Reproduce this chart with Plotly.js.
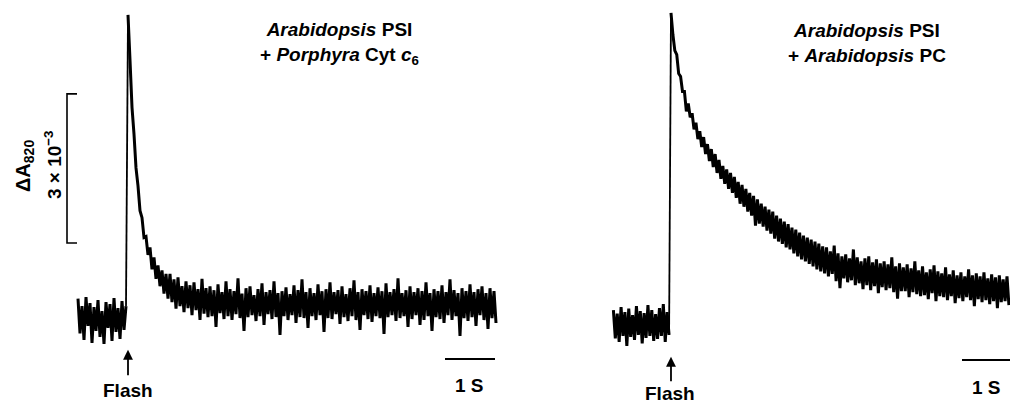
<!DOCTYPE html>
<html>
<head>
<meta charset="utf-8">
<script src="https://cdn.plot.ly/plotly-3.0.1.min.js"></script>
<style>html,body{margin:0;padding:0;background:#fff;}#chart{width:1010px;height:405px;}</style>
</head>
<body>
<div id="chart"></div>
<script>
// Sampling (seconds)
const sampleStep = 0.04;
const leftStart = -1.00;   // first sample time, left trace
const rightStart = -1.20;  // first sample time, right trace
const leftFlashIndex = 25;  // sample at the flash (t = 0)
const rightFlashIndex = 30;

// ΔA820 samples (units of 1e-3), Arabidopsis PSI + Porphyra Cyt c6
const leftSignal = [
  0.45,-0.25,0.30,-0.38,0.48,-0.10,0.36,-0.44,0.28,-0.20,
  0.42,-0.32,0.20,-0.46,0.38,-0.14,0.34,-0.40,0.46,-0.22,
  0.26,-0.36,0.40,-0.18,0.30,
  6.16,
  5.25,4.30,3.76,3.08,2.72,2.22,2.08,1.68,1.70,1.33,
  1.48,1.04,1.28,0.85,1.12,0.70,1.02,0.55,0.95,0.45,
  0.95,0.38,0.84,0.25,0.88,0.30,0.70,0.18,0.80,0.26,
  0.72,0.12,0.78,0.22,0.64,0.02,0.85,0.15,0.66,0.08,
  0.70,0.10,0.62,-0.12,0.74,0.16,0.58,0.04,0.80,0.10,
  0.64,0.02,0.60,0.14,0.86,0.06,0.55,-0.20,0.66,0.08,
  0.70,0.12,0.52,0.00,0.64,0.10,0.76,-0.08,0.58,0.14,
  0.62,0.04,0.80,0.08,0.56,-0.28,0.60,0.10,0.68,0.02,
  0.54,0.12,0.72,-0.04,0.62,0.08,0.84,0.06,0.58,-0.14,
  0.66,0.10,0.56,0.02,0.74,0.12,0.60,-0.22,0.64,0.06,
  0.78,0.04,0.58,0.14,0.62,-0.06,0.70,0.08,0.54,0.00,
  0.66,0.10,0.82,0.02,0.58,-0.18,0.64,0.12,0.60,0.04,
  0.72,-0.02,0.56,0.10,0.68,0.06,0.60,-0.26,0.76,0.08,
  0.58,0.12,0.64,0.00,0.86,0.06,0.56,0.10,0.62,-0.12,
  0.70,0.04,0.58,0.12,0.66,-0.08,0.60,0.02,0.78,0.10,
  0.56,-0.20,0.64,0.08,0.60,0.04,0.72,-0.04,0.58,0.12,
  0.84,0.02,0.62,0.10,0.56,-0.30,0.66,0.06,0.60,0.00,
  0.74,0.08,0.58,-0.10,0.64,0.12,0.70,0.02,0.56,-0.16,
  0.66,0.06,0.60,-0.04
];

// ΔA820 samples (units of 1e-3), Arabidopsis PSI + Arabidopsis PC
const rightSignal = [
  0.22,-0.35,0.15,-0.42,0.28,-0.30,0.18,-0.50,0.25,-0.32,
  0.12,-0.38,0.30,-0.28,0.20,-0.45,0.16,-0.34,0.32,-0.30,
  0.22,-0.40,0.14,-0.36,0.26,-0.30,0.34,-0.42,0.18,-0.28,
  6.20,
  5.76,5.44,5.36,4.98,4.92,4.62,4.62,4.22,4.38,4.10,
  4.18,3.86,3.99,3.66,3.82,3.50,3.70,3.36,3.56,3.22,
  3.46,3.10,3.36,2.98,3.24,2.86,3.12,2.76,3.05,2.66,
  2.98,2.58,2.90,2.48,2.80,2.36,2.74,2.30,2.66,2.20,
  2.58,2.12,2.52,1.92,2.45,1.96,2.36,1.90,2.30,1.82,
  2.24,1.76,2.20,1.66,2.12,1.60,2.06,1.55,2.00,1.48,
  1.95,1.44,1.88,1.36,1.84,1.30,1.78,1.24,1.72,1.20,
  1.68,1.15,1.64,1.10,1.60,1.04,1.56,1.00,1.50,0.96,
  1.48,0.90,1.40,0.95,1.52,0.80,1.36,0.66,1.30,0.86,
  1.34,0.78,1.26,0.82,1.44,0.72,1.28,0.76,1.20,0.64,
  1.26,0.72,1.30,0.62,1.18,0.70,1.24,0.56,1.16,0.68,
  1.20,0.62,1.14,0.66,1.28,0.58,1.10,0.45,1.16,0.60,
  1.08,0.60,1.14,0.48,1.06,0.58,1.20,0.54,1.02,0.50,
  1.10,0.52,0.98,0.44,1.04,0.56,1.12,0.40,1.00,0.50,
  0.96,0.48,1.08,0.42,0.94,0.50,1.02,0.36,0.92,0.46,
  0.98,0.40,0.90,0.48,1.04,0.42,0.92,0.30,0.96,0.44,
  0.90,0.38,0.98,0.42,0.86,0.34,0.94,0.40,0.88,0.26,
  0.92,0.38,0.84,0.40,0.90,0.32
];

const leftTitle = "<b><i>Arabidopsis</i> PSI<br>+ <i>Porphyra</i> Cyt <i>c</i><sub>6</sub></b>";
const rightTitle = "<b><i>Arabidopsis</i> PSI<br>+ <i>Arabidopsis</i> PC</b>";
const yLabel = "<b>ΔA<sub>820</sub></b>";
const yScaleLabel = "<b>3 × 10<sup>−3</sup></b>";
const yScaleValue = 3;       // bracket length in 1e-3 units
const timeScaleLabel = "<b>1 S</b>";
const flashLabel = "<b>Flash</b>";

const leftTime = leftSignal.map((_, i) => +(leftStart + i * sampleStep).toFixed(3));
const rightTime = rightSignal.map((_, i) => +(rightStart + i * sampleStep).toFixed(3));

const FONT = "Liberation Sans, Arial, Helvetica, sans-serif";

function pieces(t, v, f, xa) {
  const thick = {color: '#000', width: 3, simplify: false};
  const thin = {color: '#000', width: 1.8, simplify: false};
  const base = {xaxis: xa, yaxis: 'y', mode: 'lines', hoverinfo: 'skip'};
  return [
    Object.assign({x: t.slice(0, f), y: v.slice(0, f), line: thick}, base),
    Object.assign({x: t.slice(f - 1, f + 1), y: v.slice(f - 1, f + 1), line: thin}, base),
    Object.assign({x: t.slice(f), y: v.slice(f), line: thick}, base)
  ];
}

const traces = [].concat(
  pieces(leftTime, leftSignal, leftFlashIndex, 'x'),
  pieces(rightTime, rightSignal, rightFlashIndex, 'x2')
);

const hidden = {visible: false, showgrid: false, zeroline: false, fixedrange: true};

const bracketX = -1.22, bracketCapX = -1.02, bracketLow = 1.57;

const layout = {
  width: 1010, height: 405,
  margin: {l: 0, r: 0, t: 0, b: 0},
  paper_bgcolor: '#fff', plot_bgcolor: '#fff',
  showlegend: false,
  xaxis: Object.assign({domain: [0, 0.5], range: [-2.56, 7.54]}, hidden),
  xaxis2: Object.assign({domain: [0.5, 1], range: [-3.458, 7.0625], anchor: 'y'}, hidden),
  yaxis: Object.assign({domain: [0, 1], range: [-1.69, 6.46]}, hidden),
  font: {family: FONT, color: '#000'},
  shapes: [
    {type: 'line', xref: 'x', yref: 'y', x0: 6.34, x1: 7.34, y0: -0.765, y1: -0.765, line: {color: '#000', width: 2}},
    {type: 'line', xref: 'x2', yref: 'y', x0: 6.0625, x1: 7.0625, y0: -0.785, y1: -0.785, line: {color: '#000', width: 2}},
    {type: 'path', xref: 'x', yref: 'y',
     path: `M ${bracketCapX},${bracketLow + yScaleValue} L ${bracketX},${bracketLow + yScaleValue} L ${bracketX},${bracketLow} L ${bracketCapX},${bracketLow}`,
     line: {color: '#000', width: 1.6}}
  ],
  annotations: [
    {xref: 'paper', yref: 'paper', x: 339/1010, y: 1 - 43/405, text: leftTitle, showarrow: false,
     xanchor: 'center', yanchor: 'middle', align: 'center', font: {size: 19, family: FONT}},
    {xref: 'paper', yref: 'paper', x: 867/1010, y: 1 - 43/405, text: rightTitle, showarrow: false,
     xanchor: 'center', yanchor: 'middle', align: 'center', font: {size: 19, family: FONT}},
    {xref: 'paper', yref: 'paper', x: 24/1010, y: 1 - 166/405, text: yLabel, showarrow: false,
     textangle: -90, xanchor: 'center', yanchor: 'middle', font: {size: 20, family: FONT}},
    {xref: 'paper', yref: 'paper', x: 53/1010, y: 1 - 165/405, text: yScaleLabel, showarrow: false,
     textangle: -90, xanchor: 'center', yanchor: 'middle', font: {size: 19, family: FONT}},
    {xref: 'x', yref: 'y', x: 0, y: -0.58, ax: 0, ay: 27, text: '', showarrow: true,
     arrowhead: 2, arrowsize: 1.1, arrowwidth: 1.8, arrowcolor: '#000'},
    {xref: 'x2', yref: 'y', x: 0, y: -0.72, ax: 0, ay: 26, text: '', showarrow: true,
     arrowhead: 2, arrowsize: 1.1, arrowwidth: 1.8, arrowcolor: '#000'},
    {xref: 'paper', yref: 'paper', x: 128/1010, y: 1 - 390/405, text: flashLabel, showarrow: false,
     xanchor: 'center', yanchor: 'middle', font: {size: 19, family: FONT}},
    {xref: 'paper', yref: 'paper', x: 670/1010, y: 1 - 393/405, text: flashLabel, showarrow: false,
     xanchor: 'center', yanchor: 'middle', font: {size: 19, family: FONT}},
    {xref: 'paper', yref: 'paper', x: 469/1010, y: 1 - 385/405, text: timeScaleLabel, showarrow: false,
     xanchor: 'center', yanchor: 'middle', font: {size: 19, family: FONT}},
    {xref: 'paper', yref: 'paper', x: 986/1010, y: 1 - 387/405, text: timeScaleLabel, showarrow: false,
     xanchor: 'center', yanchor: 'middle', font: {size: 19, family: FONT}}
  ]
};

Plotly.newPlot('chart', traces, layout, {staticPlot: true, displayModeBar: false});
</script>
</body>
</html>
